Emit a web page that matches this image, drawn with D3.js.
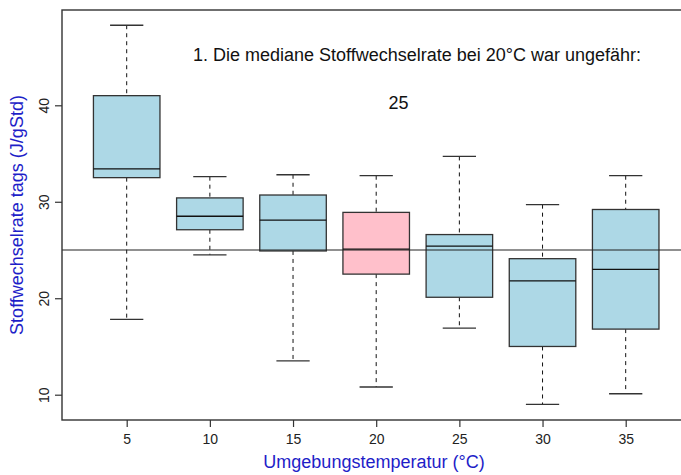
<!DOCTYPE html>
<html><head><meta charset="utf-8">
<script src="https://cdn.jsdelivr.net/npm/d3@7"></script>
<style>body{margin:0;background:#fff}svg{display:block}text{font-family:"Liberation Sans",Arial,Helvetica,sans-serif}</style>
</head><body>
<svg id="c" width="681" height="475"></svg>
<script>
const categories = ["5","10","15","20","25","30","35"];
const whiskerLow  = [17.8, 24.5, 13.5, 10.8, 16.9, 9.0, 10.1];
const q1          = [32.5, 27.1, 24.9, 22.5, 20.1, 15.0, 16.8];
const medians     = [33.4, 28.5, 28.1, 25.1, 25.4, 21.8, 23.0];
const q3          = [41.0, 30.4, 30.7, 28.9, 26.6, 24.1, 29.2];
const whiskerHigh = [48.3, 32.6, 32.8, 32.7, 34.7, 29.7, 32.7];
const yTicks = [10, 20, 30, 40];
const refLine = 25;
const highlight = "20";
const title = "1. Die mediane Stoffwechselrate bei 20°C war ungefähr:";
const answer = "25";

const svg = d3.select("#c");
const L = 62, T = 10, B = 420, R = 700;
const x = d3.scalePoint().domain(categories).range([126.7, 625.7]);
const y = d3.scaleLinear().domain([10, 40]).range([394.7, 105.3]);
const bw = x.step() * 0.8;
const stroke = "#333";

const data = categories.map((c, i) => ({c, lo: whiskerLow[i], q1: q1[i], med: medians[i], q3: q3[i], hi: whiskerHigh[i]}));

const g = svg.append("g");
// whiskers
g.selectAll(".wl").data(data).join("line")
  .attr("x1", d => x(d.c)).attr("x2", d => x(d.c))
  .attr("y1", d => y(d.hi)).attr("y2", d => y(d.q3))
  .attr("stroke", "#111").attr("stroke-width", 1).attr("stroke-dasharray", "4,4");
g.selectAll(".wl2").data(data).join("line")
  .attr("x1", d => x(d.c)).attr("x2", d => x(d.c))
  .attr("y1", d => y(d.q1)).attr("y2", d => y(d.lo))
  .attr("stroke", "#111").attr("stroke-width", 1).attr("stroke-dasharray", "4,4");
// caps
["hi", "lo"].forEach(k => {
  g.selectAll(".cap" + k).data(data).join("line")
    .attr("x1", d => x(d.c) - bw / 4).attr("x2", d => x(d.c) + bw / 4)
    .attr("y1", d => y(d[k])).attr("y2", d => y(d[k]))
    .attr("stroke", stroke).attr("stroke-width", 1.3);
});
// boxes
g.selectAll("rect.box").data(data).join("rect")
  .attr("x", d => x(d.c) - bw / 2).attr("width", bw)
  .attr("y", d => y(d.q3)).attr("height", d => y(d.q1) - y(d.q3))
  .attr("fill", d => d.c === highlight ? "#FFC0CB" : "#ADD8E6")
  .attr("stroke", stroke).attr("stroke-width", 1.3);
// medians
g.selectAll(".med").data(data).join("line")
  .attr("x1", d => x(d.c) - bw / 2).attr("x2", d => x(d.c) + bw / 2)
  .attr("y1", d => y(d.med)).attr("y2", d => y(d.med))
  .attr("stroke", "#111").attr("stroke-width", 1.3);

// reference line
svg.append("line").attr("x1", L).attr("x2", R).attr("y1", y(refLine)).attr("y2", y(refLine))
  .attr("stroke", "#222").attr("stroke-width", 1.2);

// frame
svg.append("rect").attr("x", L).attr("y", T).attr("width", R - L).attr("height", B - T)
  .attr("fill", "none").attr("stroke", stroke).attr("stroke-width", 1.4);

// y axis
const ya = svg.append("g").attr("transform", `translate(${L},0)`)
  .call(d3.axisLeft(y).tickValues(yTicks).tickSize(7).tickFormat(d3.format("d")));
ya.select(".domain").remove();
ya.selectAll("line").attr("stroke", stroke).attr("stroke-width", 1.2);
ya.selectAll("text")
  .attr("x", null).attr("y", 0).attr("dy", null)
  .attr("transform", `translate(${48.5 - L},0) rotate(-90)`)
  .attr("text-anchor", "middle")
  .attr("font-size", 14).attr("fill", "#222").style("font-family", '"Liberation Sans",Arial,sans-serif');

// x axis
const xa = svg.append("g").attr("transform", `translate(0,${B})`)
  .call(d3.axisBottom(x).tickSize(7));
xa.select(".domain").remove();
xa.selectAll("line").attr("stroke", stroke).attr("stroke-width", 1.2);
xa.selectAll("text").attr("y", 24).attr("dy", null).attr("font-size", 14).attr("fill", "#222")
  .style("font-family", '"Liberation Sans",Arial,sans-serif');

// labels
svg.append("text").attr("x", 374).attr("y", 468).attr("text-anchor", "middle")
  .attr("font-size", 18).attr("fill", "#1e1ec8").text("Umgebungstemperatur (°C)");
svg.append("text").attr("transform", "translate(22.5,215) rotate(-90)").attr("text-anchor", "middle")
  .attr("font-size", 18).attr("fill", "#1e1ec8").text("Stoffwechselrate tags (J/gStd)");

svg.append("text").attr("x", 417).attr("y", 61).attr("text-anchor", "middle")
  .attr("font-size", 18).attr("fill", "#111").text(title);
svg.append("text").attr("x", 398.5).attr("y", 109.3).attr("text-anchor", "middle")
  .attr("font-size", 18).attr("fill", "#111").text(answer);
</script>
</body></html>
